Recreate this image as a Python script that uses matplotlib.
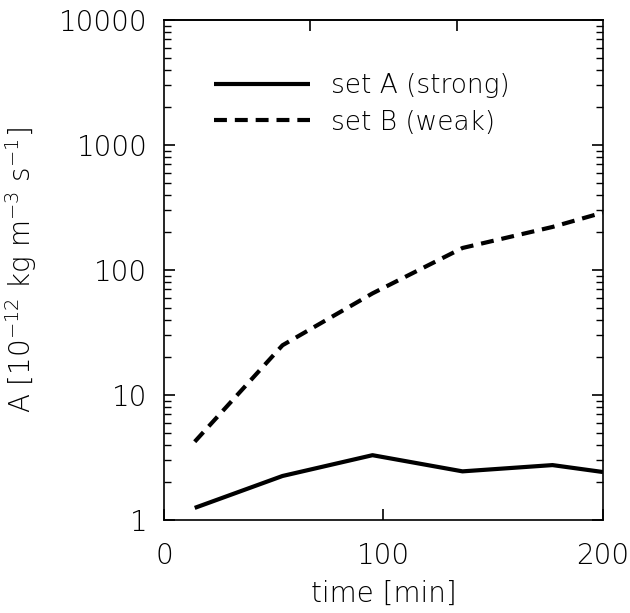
import matplotlib
matplotlib.use("Agg")
import matplotlib.pyplot as plt
from matplotlib.ticker import LogLocator, NullFormatter, FixedLocator

plt.rcParams['font.family'] = ['DejaVu Sans']
plt.rcParams['font.weight'] = 'light'
plt.rcParams['axes.labelweight'] = 'light'
plt.rcParams['mathtext.fontset'] = 'custom'
plt.rcParams['mathtext.rm'] = 'DejaVu Sans:light'
plt.rcParams['mathtext.default'] = 'rm'

# data
time_a = [14, 54, 95, 136, 177, 200]
strong = [1.25, 2.25, 3.3, 2.45, 2.75, 2.42]
time_b = [14, 54, 95, 136, 177, 200]
weak = [4.23, 25.0, 65.0, 150.0, 221.0, 288.0]
xticks = [0, 100, 200]
yticks = [1, 10, 100, 1000, 10000]
ytick_labels = ['1', '10', '100', '1000', '10000']

fig = plt.figure(figsize=(6.3, 6.13), dpi=100)
ax = fig.add_axes([0.2603, 0.1517, 0.6968, 0.8157])

ax.plot(time_a, strong, color='black', lw=3.0, solid_capstyle='butt',
        label='set A (strong)')
ax.plot(time_b, weak, color='black', lw=3.0, dashes=(3.1, 1.9),
        label='set B (weak)')

ax.set_yscale('log')
ax.set_xlim(0, 200)
ax.set_ylim(1, 10000)
ax.set_xticks(xticks)
ax.set_xticklabels([str(t) for t in xticks])
ax.set_yticks(yticks)
ax.set_yticklabels(ytick_labels)
ax.yaxis.set_minor_locator(LogLocator(base=10, subs=range(2, 10)))
ax.yaxis.set_minor_formatter(NullFormatter())

for s in ax.spines.values():
    s.set_linewidth(1.2)

ax.tick_params(axis='y', which='major', direction='in', length=8, width=1.2,
               labelsize=20, pad=12, right=True)
ax.tick_params(axis='x', which='major', direction='in', length=8, width=1.2,
               labelsize=20, pad=16)
ax.tick_params(axis='y', which='minor', direction='in', length=5, width=1.0,
               right=True)
ax.tick_params(axis='x', which='minor', bottom=False, top=False)

top = ax.secondary_xaxis('top')
top.xaxis.set_major_locator(FixedLocator([200 / 3, 400 / 3]))
top.tick_params(direction='in', length=8, width=1.2, labeltop=False)
top.spines['top'].set_linewidth(1.2)

ax.set_xlabel('time [min]', fontsize=20, labelpad=7)
ax.set_ylabel(r'A [10$^{-12}$ kg m$^{-3}$ s$^{-1}$]', fontsize=20, labelpad=14)

ax.legend(loc='upper left', bbox_to_anchor=(0.114, 0.893), frameon=False,
          borderpad=0, borderaxespad=0, fontsize=19, handlelength=3.64,
          handletextpad=0.8, labelspacing=0.42)

fig.savefig('out.png', dpi=100)
